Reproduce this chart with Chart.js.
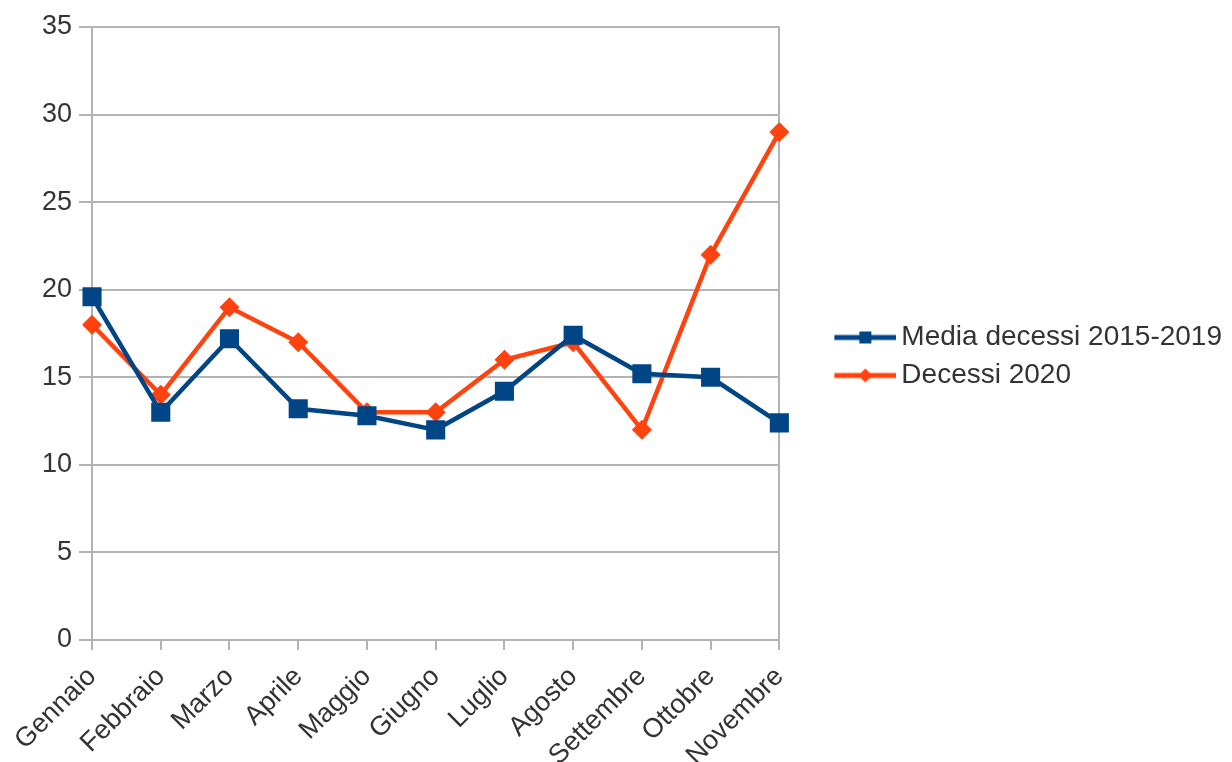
<!DOCTYPE html>
<html>
<head>
<meta charset="utf-8">
<script src="https://cdn.jsdelivr.net/npm/chart.js@4.4.1/dist/chart.umd.min.js"></script>
<style>
  html, body { margin: 0; padding: 0; background: #fff; }
  #wrap { width: 1232px; height: 762px; }
</style>
</head>
<body>
<div id="wrap"><canvas id="chart"></canvas></div>
<script>
const months = ['Gennaio', 'Febbraio', 'Marzo', 'Aprile', 'Maggio', 'Giugno',
  'Luglio', 'Agosto', 'Settembre', 'Ottobre', 'Novembre']
const media2015_2019 = [19.6, 13.0, 17.2, 13.2, 12.8, 12.0, 14.2, 17.4, 15.2, 15.0, 12.4]
const decessi2020 = [18, 14, 19, 17, 13, 13, 16, 17, 12, 22, 29]
const yTicks = [0, 5, 10, 15, 20, 25, 30, 35]

const BLUE = '#004586'
const ORANGE = '#ff420e'
const GRID = '#b3b3b3'
const TEXT = '#333'

// legend box is wider than the icon so the legend pushes the plot left
const LEG_BOX = 98

// line + marker picture for the legend, drawn at the right end of a wide canvas
function legendIcon(color, style) {
  const c = document.createElement('canvas')
  c.width = LEG_BOX + 18
  c.height = 24
  if (!color) return c
  const g = c.getContext('2d')
  const x0 = LEG_BOX - 44, x1 = LEG_BOX + 18, mid = (x0 + x1) / 2
  g.strokeStyle = color
  g.lineWidth = 5
  g.beginPath()
  g.moveTo(x0, 12)
  g.lineTo(x1, 12)
  g.stroke()
  g.fillStyle = color
  if (style === 'rect') {
    g.fillRect(mid - 6, 6, 12, 12)
  } else {
    g.beginPath()
    g.moveTo(mid, 5)
    g.lineTo(mid + 7, 12)
    g.lineTo(mid, 19)
    g.lineTo(mid - 7, 12)
    g.closePath()
    g.fill()
  }
  return c
}

const icons = [legendIcon(BLUE, 'rect'), legendIcon(ORANGE, 'diamond')]
const blankIcon = legendIcon(null)

new Chart(document.getElementById('chart'), {
  type: 'line',
  data: {
    labels: months,
    datasets: [{
      label: 'Media decessi 2015-2019',
      data: media2015_2019,
      borderColor: BLUE,
      backgroundColor: BLUE,
      borderWidth: 4.5,
      pointStyle: 'rect',
      pointRadius: 13.5,
      pointHoverRadius: 13.5,
      pointBorderWidth: 0,
      tension: 0
    }, {
      label: 'Decessi 2020',
      data: decessi2020,
      borderColor: ORANGE,
      backgroundColor: ORANGE,
      borderWidth: 4.5,
      pointStyle: 'rectRot',
      pointRadius: 10,
      pointHoverRadius: 10,
      pointBorderWidth: 0,
      tension: 0
    }]
  },
  options: {
    responsive: true,
    maintainAspectRatio: false,
    animation: false,
    layout: { padding: { top: 27, left: 35, right: 0, bottom: 0 } },
    plugins: {
      tooltip: { enabled: false },
      legend: {
        position: 'right',
        maxWidth: 470,
        labels: {
          color: TEXT,
          font: { family: 'Liberation Sans', size: 28 },
          usePointStyle: true,
          pointStyleWidth: LEG_BOX,
          padding: 10,
          generateLabels(chart) {
            const items = chart.data.datasets.map((ds, i) => ({
              text: ds.label,
              pointStyle: icons[i],
              fontColor: TEXT,
              datasetIndex: i,
              hidden: false,
              lineWidth: 0
            }))
            // empty spacer rows lift the two entries a little
            for (let k = 0; k < 2; k++) {
              items.push({ text: '', pointStyle: blankIcon, fontColor: TEXT, hidden: false, lineWidth: 0 })
            }
            return items
          }
        }
      }
    },
    scales: {
      x: {
        offset: false,
        // labels run off the bottom edge like in the original picture
        afterFit: axis => { axis.height -= 21 },
        border: { color: GRID, width: 2 },
        grid: {
          color: ctx => ctx.index === months.length - 1 ? GRID : 'rgba(0,0,0,0)',
          tickColor: GRID,
          tickLength: 10,
          lineWidth: 2
        },
        ticks: {
          color: TEXT,
          font: { family: 'Liberation Sans', size: 27 },
          minRotation: 45,
          maxRotation: 45,
          padding: 11
        }
      },
      y: {
        min: 0,
        max: 35,
        afterBuildTicks: axis => { axis.ticks = yTicks.map(v => ({ value: v })) },
        border: { color: GRID, width: 2 },
        grid: {
          color: GRID,
          tickColor: GRID,
          tickLength: 13,
          lineWidth: 2
        },
        ticks: {
          color: TEXT,
          font: { family: 'Liberation Sans', size: 27 },
          padding: 7
        }
      }
    }
  }
})
</script>
</body>
</html>
